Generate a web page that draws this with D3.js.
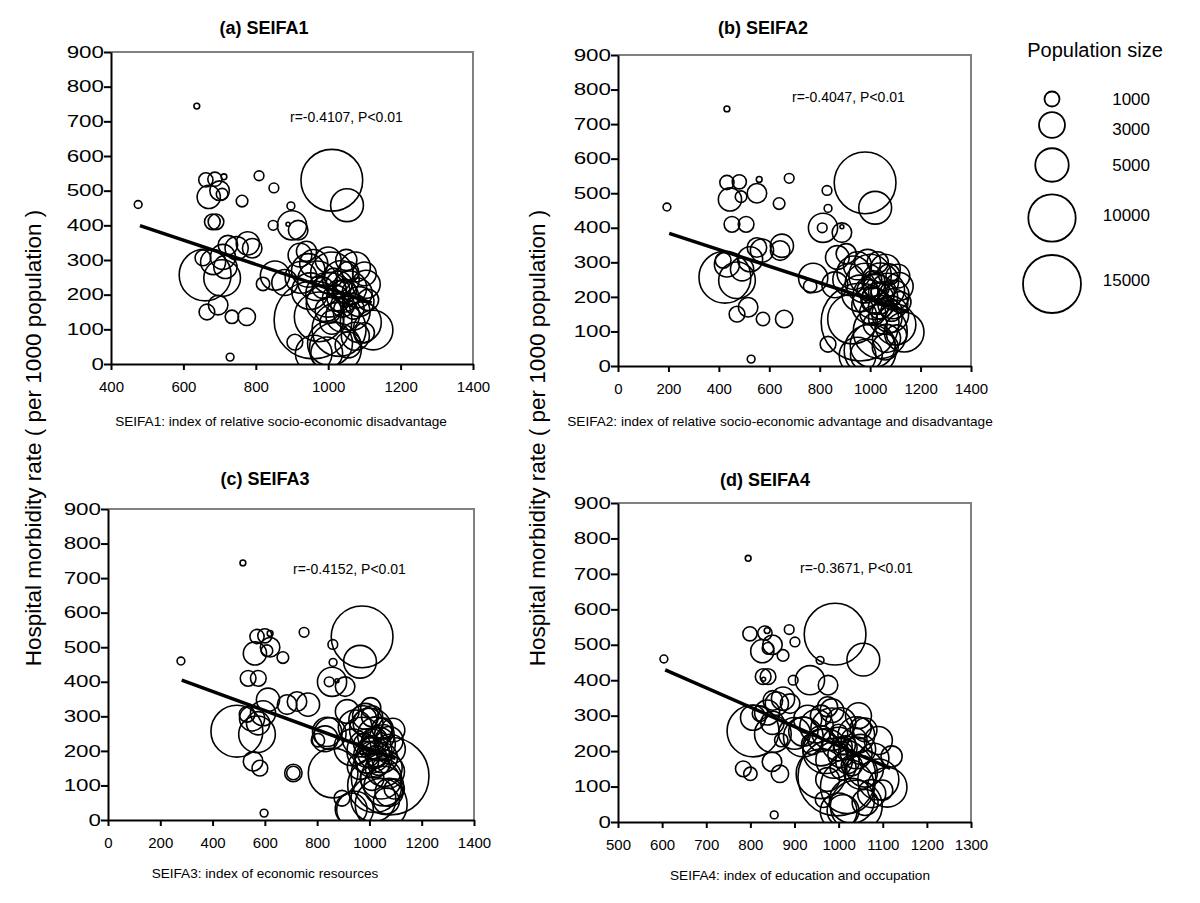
<!DOCTYPE html>
<html>
<head>
<meta charset="utf-8">
<script src="https://cdn.jsdelivr.net/npm/d3@7"></script>
<style>
  body { margin: 0; background: #fff; }
  svg { font-family: "Liberation Sans", Arial, sans-serif; }
</style>
</head>
<body>
<div id="chart"></div>
<script>
// one entry per region, same order in every array
const rate = [531,533,540,543,508,482,490,500,470,456,
  410,410,400,400,403,386,348,334,343,334,
  306,294,309,280,257,248,231,150,170,136,
  136,20,744,460,255,63,530,458,
  314,127,136,262,32,60,98,55,245,220,
  200,180,150,290,270,240,230,210,190,175,
  160,140,120,100,80,45,30,300,280,260,
  230,210,195,185,250,220,300,155,205,170,
  235,250,120,90,215,325,265]

const pop = [900,900,150,420,420,2400,600,1700,600,270,
  1100,1100,3800,420,70,1700,2400,1700,1700,2400,
  1100,2800,2800,2400,12000,6000,800,1100,1700,800,
  1350,270,150,270,3800,1100,17000,4800,
  2500,27000,11000,8000,4500,9000,7000,3000,6000,5000,
  9000,4000,6000,3500,5000,7000,3000,2500,3000,6000,
  2000,5000,7500,13000,3500,12000,6000,2000,4000,2500,
  3500,6000,4500,2000,1500,2000,3000,3000,4000,2500,
  3000,4500,2500,1800,1500,1800,2000]

const seifa1 = [662,687,712,809,850,670,707,700,762,897,
  680,690,900,848,889,917,778,790,723,747,
  654,682,709,716,660,707,820,665,696,734,
  775,729,637,475,853,908,1010,1052,
  922,958,975,1010,996,1005,1124,1055,1035,1060,
  1000,1085,1065,960,945,970,1030,1045,1020,990,
  1070,1040,1090,1030,1075,1020,960,1050,1075,1100,
  1105,950,1040,1110,1015,985,1000,1000,1080,1040,
  880,925,1010,1100,1025,940,1055]

const seifa2 = [432,481,560,679,829,444,488,551,639,833,
  452,508,813,810,888,888,650,643,551,571,
  417,432,524,492,424,472,762,472,516,575,
  659,528,432,194,774,833,980,1020,
  870,960,930,1000,985,1010,1135,1060,1040,1070,
  1020,1090,1080,950,935,980,1025,1050,1015,1000,
  1085,1060,1100,1040,1065,1000,950,1030,1060,1110,
  1115,960,1030,1120,1010,990,990,1010,1095,1040,
  860,915,1020,1105,1030,905,1075]

const seifa3 = [570,600,620,750,860,562,608,620,669,861,
  536,575,857,846,876,907,612,685,723,765,
  532,551,593,574,493,570,803,581,555,709,
  709,597,516,279,838,895,972,964,
  915,1079,861,1005,930,1015,1055,1065,1025,1035,
  1000,1050,1055,975,945,970,1020,1005,990,1015,
  1035,1070,1045,1020,1075,1045,945,1010,995,1090,
  1075,935,1015,1025,1055,980,985,965,1080,990,
  830,850,1010,1095,1000,1005,1050]

const seifa4 = [799,833,838,888,901,827,840,850,874,958,
  829,840,935,897,830,976,874,890,851,860,
  822,806,838,850,806,851,870,784,849,800,
  867,854,795,604,920,965,992,1056,
  985,996,960,985,1010,1030,1110,1060,1040,1000,
  970,1080,1060,930,950,920,1035,1015,1005,990,
  1030,1050,1090,1020,1075,1040,1000,960,1005,1060,
  1090,960,1040,1120,1000,940,1045,1010,1050,1020,
  960,900,975,1100,1010,975,1050]

// fitted lines: [seifa, rate] at both ends
const fitStart = [[480,399],[203,384],[282,405],[607,429]]
const fitEnd = [[1120,176],[1150,157],[1100,178],[1117,151]]

const panelTitles = ["(a) SEIFA1","(b) SEIFA2","(c) SEIFA3","(d) SEIFA4"]
const xTitles = ["SEIFA1: index of relative socio-economic disadvantage",
  "SEIFA2: index of relative socio-economic advantage and disadvantage",
  "SEIFA3: index of economic resources",
  "SEIFA4: index of education and occupation"]
const rTexts = ["r=-0.4107, P<0.01","r=-0.4047, P<0.01","r=-0.4152, P<0.01","r=-0.3671, P<0.01"]
const xDomains = [[400,1400],[0,1400],[0,1400],[500,1300]]
const xTicks = [[400,600,800,1000,1200,1400],
  [0,200,400,600,800,1000,1200,1400],
  [0,200,400,600,800,1000,1200,1400],
  [500,600,700,800,900,1000,1100,1200,1300]]
const yTicks = [0,100,200,300,400,500,600,700,800,900]
const legendSizes = [1000,3000,5000,10000,15000]
const yTitle = "Hospital morbidity rate ( per 1000 population )"

// layout
const panels = [
  {left:111, right:473, top:52, bottom:364, tx:264, ty:28, lx:281, ly:421, rx:290, ry:117},
  {left:618, right:971, top:55, bottom:366, tx:763, ty:28, lx:780, ly:421, rx:792, ry:97},
  {left:108, right:474, top:509, bottom:820, tx:265, ty:479, lx:265, ly:873, rx:293, ry:569},
  {left:618, right:971, top:503, bottom:822, tx:765, ty:480, lx:800, ly:875, rx:800, ry:568}
]
const seifa = [seifa1, seifa2, seifa3, seifa4]

const svg = d3.select("#chart").append("svg").attr("width", 1200).attr("height", 903)
const rScale = d3.scaleSqrt().domain([0, 15000]).range([0, 29])

panels.forEach((p, i) => {
  const x = d3.scaleLinear().domain(xDomains[i]).range([p.left, p.right])
  const y = d3.scaleLinear().domain([0, 900]).range([p.bottom, p.top])
  const g = svg.append("g")

  svg.append("clipPath").attr("id", "clip" + i).append("rect")
    .attr("x", p.left).attr("y", p.top)
    .attr("width", p.right - p.left).attr("height", p.bottom - p.top)

  // grey top/right frame
  g.append("path").attr("d", `M${p.left},${p.top}H${p.right}V${p.bottom}`)
    .attr("fill", "none").attr("stroke", "#808080").attr("stroke-width", 2)

  var pts = rate.map((r, k) => ({r: r, pop: pop[k], s: seifa[i][k]}))
  g.append("g").attr("clip-path", `url(#clip${i})`)
    .selectAll("circle").data(pts).enter().append("circle")
    .attr("cx", d => x(d.s)).attr("cy", d => y(d.r)).attr("r", d => rScale(d.pop))
    .attr("fill", "none").attr("stroke", "#000").attr("stroke-width", 1.6)

  g.append("line")
    .attr("x1", x(fitStart[i][0])).attr("y1", y(fitStart[i][1]))
    .attr("x2", x(fitEnd[i][0])).attr("y2", y(fitEnd[i][1]))
    .attr("stroke", "#000").attr("stroke-width", 3.5)

  var ya = g.append("g").attr("transform", `translate(${p.left},0)`)
    .call(d3.axisLeft(y).tickValues(yTicks).tickSize(7).tickSizeOuter(0).tickFormat(d3.format("d")))
  ya.attr("font-size", null).attr("font-family", null)
  ya.select(".domain").attr("stroke-width", 2)
  ya.selectAll(".tick line").attr("stroke-width", 2)
  ya.selectAll(".tick text").attr("font-size", 16).attr("x", -5).attr("transform", "scale(1.4,1)")

  var xa = g.append("g").attr("transform", `translate(0,${p.bottom})`)
    .call(d3.axisBottom(x).tickValues(xTicks[i]).tickSize(6).tickSizeOuter(0).tickPadding(11).tickFormat(d3.format("d")))
  xa.attr("font-size", null).attr("font-family", null)
  xa.select(".domain").attr("stroke-width", 2)
  xa.selectAll(".tick line").attr("stroke-width", 2)
  xa.selectAll(".tick text").attr("font-size", 15)

  g.append("text").attr("x", p.tx).attr("y", p.ty).attr("dy", "0.35em")
    .attr("text-anchor", "middle").attr("font-weight", "bold").attr("font-size", 18)
    .text(panelTitles[i])
  g.append("text").attr("x", p.lx).attr("y", p.ly).attr("dy", "0.35em")
    .attr("text-anchor", "middle").attr("font-size", 13.6).text(xTitles[i])
  g.append("text").attr("x", p.rx).attr("y", p.ry).attr("dy", "0.35em")
    .attr("font-size", 14).text(rTexts[i])
})

// shared y titles
;[33, 537].forEach(cx => {
  svg.append("text").attr("transform", `translate(${cx},438) rotate(-90)`)
    .attr("dy", "0.35em").attr("text-anchor", "middle").attr("font-size", 22.5).text(yTitle)
})

// legend
const legendY = [99, 125, 165, 218, 284]
const legendLabelY = [99, 129, 165, 215, 280]
svg.append("text").attr("x", 1095).attr("y", 50).attr("dy", "0.35em")
  .attr("text-anchor", "middle").attr("font-size", 20).text("Population size")
var lg = svg.append("g")
lg.selectAll("circle").data(legendSizes).enter().append("circle")
  .attr("cx", 1052).attr("cy", (d, k) => legendY[k]).attr("r", d => rScale(d))
  .attr("fill", "none").attr("stroke", "#000").attr("stroke-width", 1.8)
lg.selectAll("text").data(legendSizes).enter().append("text")
  .attr("x", 1150).attr("y", (d, k) => legendLabelY[k]).attr("dy", "0.35em")
  .attr("text-anchor", "end").attr("font-size", 17).text(d => d)
</script>
</body>
</html>
